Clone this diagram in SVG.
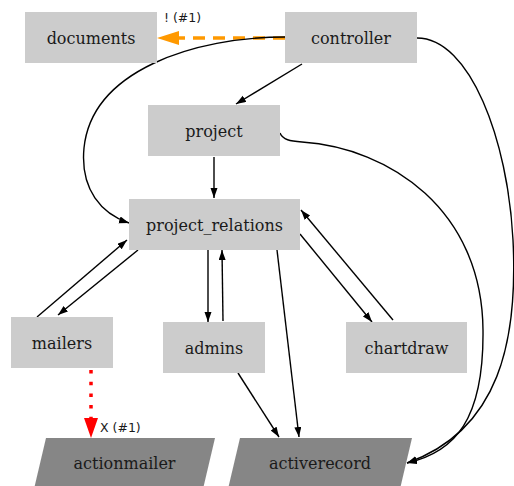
<svg xmlns="http://www.w3.org/2000/svg" width="514" height="486" viewBox="0 0 514 486">
  <style>
    .box { fill: #cccccc; }
    .ext { fill: #868686; }
    .label { font-family: "DejaVu Serif", "Liberation Serif", serif; font-size: 16px; fill: #1a1a1a; text-anchor: middle; }
    .elabel { font-family: "DejaVu Sans", "Liberation Sans", sans-serif; font-size: 12.5px; fill: #1a1a1a; }
    .edge { fill: none; stroke: #000; stroke-width: 1.4; marker-end: url(#arrow); }
    .warn { fill: none; stroke: #ff9900; stroke-width: 3.5; stroke-dasharray: 12 8; marker-end: url(#arrowOrange); }
    .broken { fill: none; stroke: #ff0000; stroke-width: 3.5; stroke-dasharray: 3.5 8.2; marker-end: url(#arrowRed); }
  </style>
  <defs>
    <marker id="arrow" markerUnits="userSpaceOnUse" markerWidth="10" markerHeight="8" refX="10" refY="3.5" orient="auto">
      <path d="M0,0 L10,3.5 L0,7 Z" fill="#000"/>
    </marker>
    <marker id="arrowOrange" markerUnits="userSpaceOnUse" markerWidth="22" markerHeight="14" refX="0" refY="7" orient="auto">
      <path d="M0,0 L22,7 L0,14 Z" fill="#ff9900"/>
    </marker>
    <marker id="arrowRed" markerUnits="userSpaceOnUse" markerWidth="20" markerHeight="14" refX="0" refY="7" orient="auto">
      <path d="M0,0 L20,7 L0,14 Z" fill="#ff0000"/>
    </marker>
  </defs>

  <g id="connectors">
    <!-- controller -> documents (warning) -->
    <path class="warn" d="M285,38 L179,38"/>
    <text class="elabel" x="164" y="22">! (#1)</text>
    <!-- controller -> project -->
    <path class="edge" d="M302,64 L236,104"/>
    <!-- controller -> project_relations -->
    <path class="edge" d="M285,37 C195,37 92,70 84,148 C80,190 102,214 129,223"/>
    <!-- controller -> activerecord -->
    <path class="edge" d="M417,38 C470,38 508,140 513,240 C518,340 500,430 407,463"/>
    <!-- project -> project_relations -->
    <path class="edge" d="M214,157 L214,198"/>
    <!-- project -> activerecord -->
    <path class="edge" d="M280,133 C283,140 290,141 302,142 C390,148 482,210 483,330 C484,420 455,452 407,463"/>
    <!-- project_relations <-> mailers -->
    <path class="edge" d="M37,317 L127,240"/>
    <path class="edge" d="M138,250 L58,315"/>
    <!-- project_relations <-> admins -->
    <path class="edge" d="M208,250 L208,322"/>
    <path class="edge" d="M223,321 L222,250"/>
    <!-- project_relations <-> chartdraw -->
    <path class="edge" d="M300,234 L372,322"/>
    <path class="edge" d="M393,320 L301,210"/>
    <!-- project_relations -> activerecord -->
    <path class="edge" d="M277,250 L299,437"/>
    <!-- admins -> activerecord -->
    <path class="edge" d="M238,373 L279,437"/>
    <!-- mailers -> actionmailer (broken) -->
    <path class="broken" d="M91,370 L91,418"/>
    <text class="elabel" x="100" y="432">X (#1)</text>
  </g>

  <g id="documents">
    <rect class="box" x="25" y="12" width="132" height="51"/>
    <text class="label" x="91" y="43.5">documents</text>
  </g>
  <g id="controller">
    <rect class="box" x="285" y="12" width="132" height="51"/>
    <text class="label" x="351" y="43.5">controller</text>
  </g>
  <g id="project">
    <rect class="box" x="148" y="105" width="132" height="51"/>
    <text class="label" x="214" y="136.5">project</text>
  </g>
  <g id="project_relations">
    <rect class="box" x="129" y="199" width="171" height="51"/>
    <text class="label" x="214.5" y="230.5">project_relations</text>
  </g>
  <g id="mailers">
    <rect class="box" x="11" y="317" width="102" height="51"/>
    <text class="label" x="62" y="348.5">mailers</text>
  </g>
  <g id="admins">
    <rect class="box" x="163" y="322" width="102" height="51"/>
    <text class="label" x="214" y="353.5">admins</text>
  </g>
  <g id="chartdraw">
    <rect class="box" x="346" y="322" width="121" height="51"/>
    <text class="label" x="406.5" y="353.5">chartdraw</text>
  </g>
  <g id="actionmailer">
    <polygon class="ext" points="46,438 215,438 203,489 34,489"/>
    <text class="label" x="124.5" y="469">actionmailer</text>
  </g>
  <g id="activerecord">
    <polygon class="ext" points="240,438 412,438 400,489 228,489"/>
    <text class="label" x="320" y="469">activerecord</text>
  </g>
</svg>
